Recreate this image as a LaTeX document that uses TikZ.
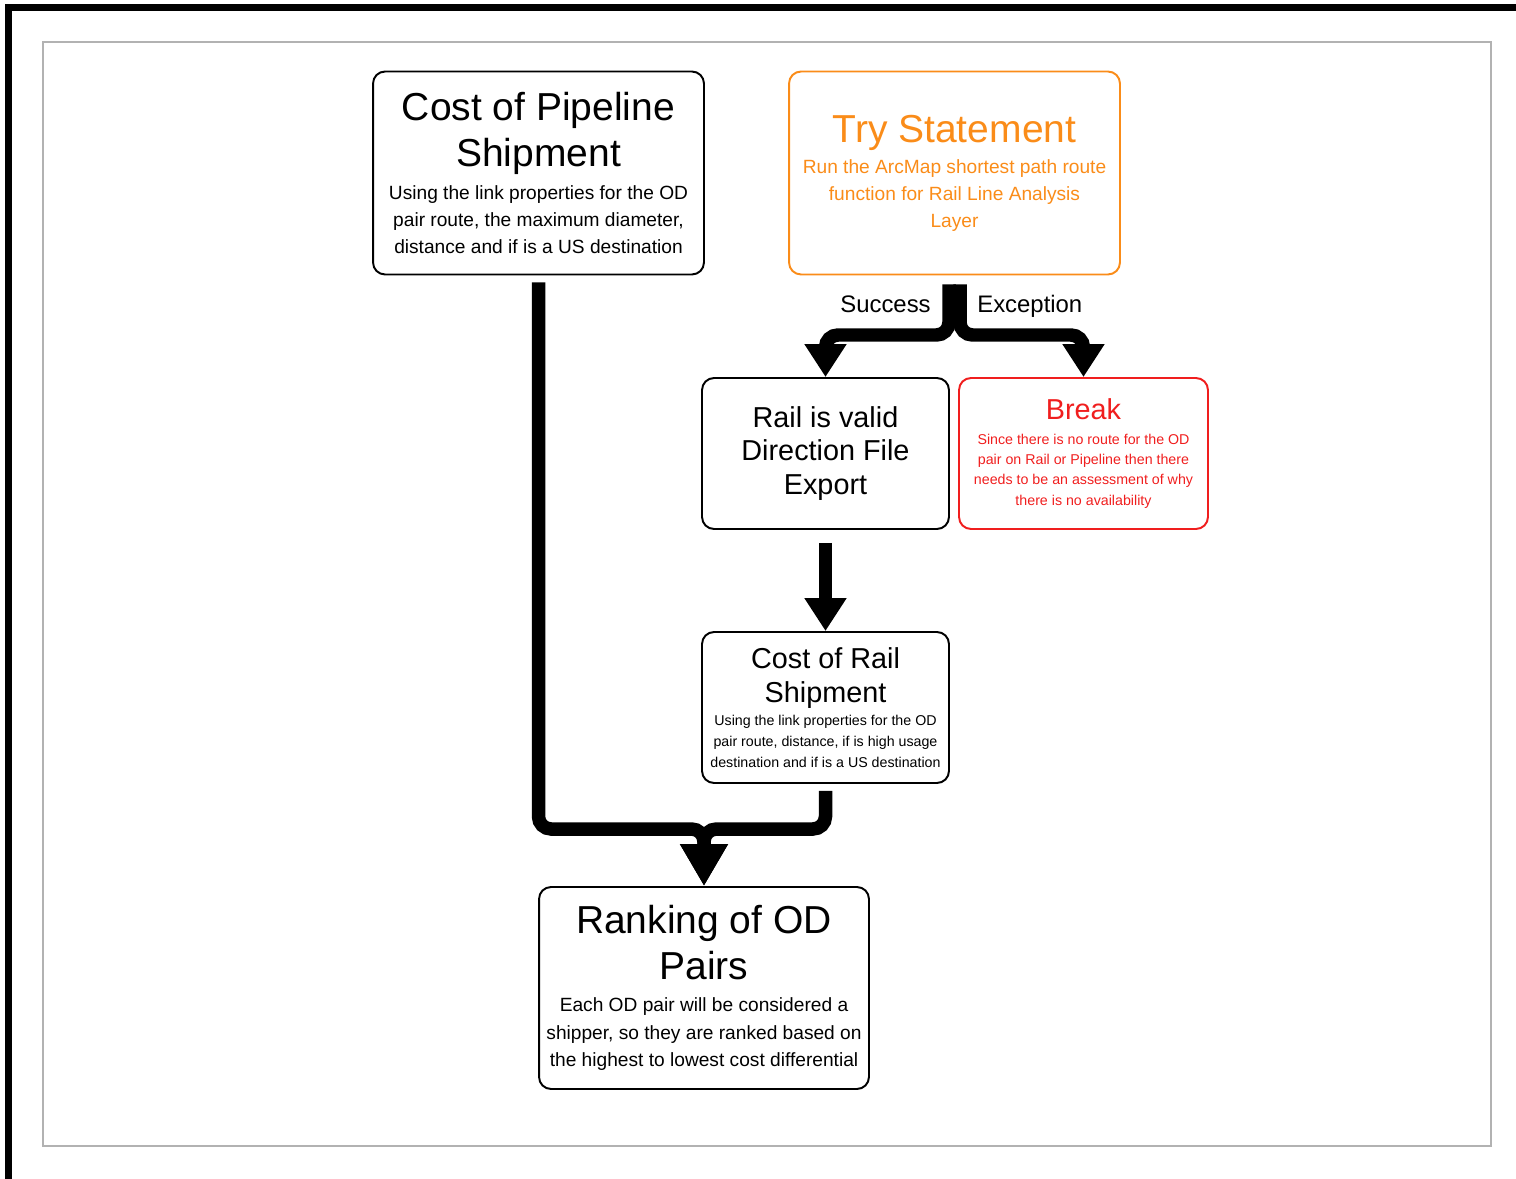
\documentclass[tikz,border=0pt]{standalone}
\usepackage{fontspec}
\setmainfont{Liberation Sans}
\usepackage{tikz}
\usetikzlibrary{arrows.meta,calc,positioning}
\definecolor{tryorange}{RGB}{250,140,25}
\definecolor{breakred}{RGB}{240,30,30}
\newcommand{\bigfont}{\fontsize{22.2}{26.2}\selectfont}
\newcommand{\midfont}{\fontsize{16.4}{19.3}\selectfont}
\newcommand{\bodyfont}{\fontsize{10.9}{15.4}\selectfont}
\newcommand{\smallfont}{\fontsize{8.1}{11.6}\selectfont}
\tikzset{
  box/.style={draw, line width=1.1pt, rounded corners=0.24cm, align=flush center, inner sep=0pt},
  flow/.style={line width=0.27cm, rounded corners=0.25cm, -{Triangle[width=0.8cm,length=0.66cm]}},
  bigflow/.style={line width=0.27cm, rounded corners=0.25cm, -{Triangle[width=0.9cm,length=0.84cm]}}
}

\begin{document}
\begin{tikzpicture}[x=0.02cm,y=-0.02cm]
        \useasboundingbox (0,0) rectangle (1516,1179);
        \coordinate (split) at (954.5,335);
        \coordinate (merge) at (704,829);
        %Frame
        \draw[line width=0.14cm] (8.5,7.5) rectangle (1530,1182);
        \draw[gray!60, line width=0.6pt] (43,42) rectangle (1491,1146);
        %Boxes
        \node[box, minimum width=6.62cm, minimum height=4.06cm, text width=6.4cm] (pipe) at (538.5,173)
          {{\bigfont Cost of Pipeline\\Shipment\par}\vspace{3pt}
           {\bodyfont Using the link properties for the OD\\pair route, the maximum diameter,\\distance and if is a US destination\par}};
        \node[box, draw=tryorange, text=tryorange, minimum width=6.62cm, minimum height=4.06cm, text width=6.4cm] (try) at (954.5,173)
          {{\bigfont Try Statement\par}\vspace{2.2pt}
           {\bodyfont Run the ArcMap shortest path route\\function for Rail Line Analysis\\Layer\par}};
        \node[box, minimum width=4.94cm, minimum height=3.02cm, text width=4.8cm] (valid) at (825.5,453.5)
          {\midfont Rail is valid\\Direction File\\Export\par};
        \node[box, draw=breakred, text=breakred, minimum width=4.98cm, minimum height=3.02cm, text width=4.8cm] (brk) at (1083.5,453.5)
          {{\midfont Break\par}\vspace{2.3pt}
           {\smallfont Since there is no route for the OD\\pair on Rail or Pipeline then there\\needs to be an assessment of why\\there is no availability\par}};
        \node[box, minimum width=4.94cm, minimum height=3.02cm, text width=4.9cm] (rail) at (825.5,707.5)
          {{\midfont Cost of Rail\\Shipment\par}\vspace{1.2pt}
           {\fontsize{8.1}{11.9}\selectfont Using the link properties for the OD\\pair route, distance, if is high usage\\destination and if is a US destination\par}};
        \node[box, minimum width=6.6cm, minimum height=4.04cm, text width=6.4cm] (rank) at (704,988)
          {{\bigfont Ranking of OD\\Pairs\par}\vspace{2.6pt}
           {\fontsize{10.9}{15.6}\selectfont Each OD pair will be considered a\\shipper, so they are ranked based on\\the highest to lowest cost differential\par}};
        %Try branches
        \draw[flow] ([shift={(-5.5,9)}]try.south) -- ([xshift=-0.11cm]try.south |- split) -| (valid.north);
        \draw[flow] ([shift={(5.5,9)}]try.south) -- ([xshift=0.11cm]try.south |- split) -| (brk.north);
        \node[anchor=base east, inner sep=0pt, font=\fontsize{13.6}{16}\selectfont] (succ) at (931,313) {Success};
        \node[anchor=base west, inner sep=0pt, font=\fontsize{13.6}{16}\selectfont] (exc) at (977,313) {Exception};
        %Rail chain
        \draw[flow] ([yshift=-0.26cm]valid.south) -- (rail.north);
        %Merge
        \draw[bigflow] ([yshift=-0.14cm]pipe.south) |- (merge) -- (rank.north);
        \draw[bigflow] ([yshift=-0.14cm]rail.south) |- (merge) -- (rank.north);
      \end{tikzpicture}
\end{document}
